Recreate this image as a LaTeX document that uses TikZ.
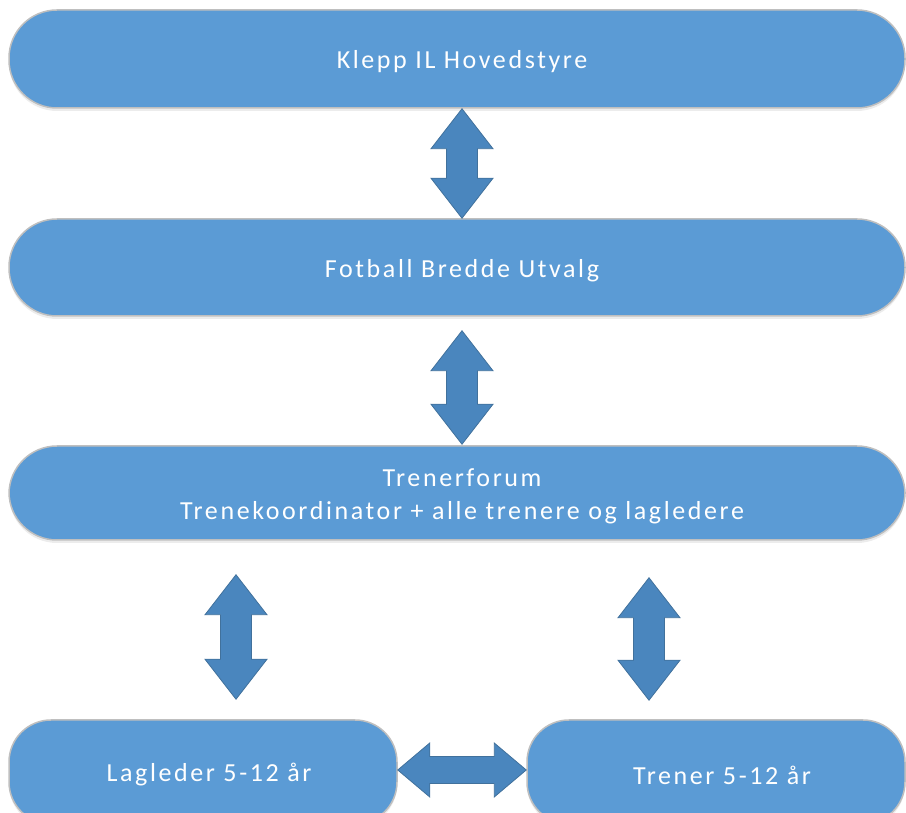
\documentclass[tikz,border=0pt]{standalone}
\usepackage{fontspec}
\setmainfont{Carlito}[LetterSpace=10]
\usetikzlibrary{calc,shadows}

\definecolor{boxfill}{HTML}{5B9BD5}
\definecolor{boxline}{HTML}{BFBFBF}
\definecolor{arrowfill}{HTML}{4A86BE}
\definecolor{arrowline}{HTML}{41719C}

% block arrows between two tips
\newcommand{\vblockarrow}[2]{%
  \draw[blockarrow] let \p1=(#1), \p2=(#2) in
    (\p1) -- (\x1+31pt,\y1-40pt) -- (\x1+15.5pt,\y1-40pt) -- (\x1+15.5pt,\y2+40pt)
    -- (\x1+31pt,\y2+40pt) -- (\x1,\y2) -- (\x1-31pt,\y2+40pt) -- (\x1-15.5pt,\y2+40pt)
    -- (\x1-15.5pt,\y1-40pt) -- (\x1-31pt,\y1-40pt) -- cycle;}
\newcommand{\hblockarrow}[2]{%
  \draw[blockarrow] let \p1=(#1), \p2=(#2) in
    (\p1) -- (\x1+32pt,\y1+27pt) -- (\x1+32pt,\y1+13.5pt) -- (\x2-32pt,\y1+13.5pt)
    -- (\x2-32pt,\y1+27pt) -- (\x2,\y1) -- (\x2-32pt,\y1-27pt) -- (\x2-32pt,\y1-13.5pt)
    -- (\x1+32pt,\y1-13.5pt) -- (\x1+32pt,\y1-27pt) -- cycle;}

\begin{document}
\begin{tikzpicture}[x=1pt,y=1pt,
    box/.style={draw=boxline,line width=1.5pt,fill=boxfill,
      rounded corners=48pt,inner sep=0pt,minimum height=98pt,
      drop shadow={opacity=0.15,shadow xshift=0pt,shadow yshift=-3pt}},
    smallbox/.style={box,rounded corners=42pt,minimum height=104pt},
    boxtext/.style={text=white,font=\fontsize{26}{33}\selectfont,align=center,yshift=-3pt},
    blockarrow/.style={fill=arrowfill,draw=arrowline,line width=0.8pt,line join=miter}]
\clip (0,0) rectangle (906,813);
\useasboundingbox (0,0) rectangle (906,813);

\node[box,minimum width=896pt] (hoved) at (457,754) {};
\node[box,minimum width=896pt,minimum height=97pt] (bredde) at (457,545.5) {};
\node[box,minimum width=896pt,minimum height=94pt] (forum) at (457,320) {};
\node[smallbox,minimum width=388pt] (lagleder) at (203,41) {};
\node[smallbox,minimum width=378pt] (trener) at (716,41) {};

\node[boxtext] (hovedtxt) at ([xshift=5pt]hoved.center) {Klepp IL Hovedstyre};
\node[boxtext] (breddetxt) at ([xshift=5pt]bredde.center) {Fotball Bredde Utvalg};
\node[boxtext] (forumtxt) at ([xshift=5pt]forum.center)
  {Trenerforum\\Trenekoordinator + alle trenere og lagledere};
\node[boxtext] (lagledertxt) at ([xshift=6pt]lagleder.center) {Lagleder 5-12 år};
\node[boxtext] (trenertxt) at ([xshift=6pt]trener.center) {Trener 5-12 år};

\vblockarrow{$(hoved.south)+(5,0)$}{$(bredde.north)+(5,0)$}
\vblockarrow{$(bredde.south)+(5,-14)$}{$(forum.north)+(5,1)$}
\vblockarrow{$(forum.south)+(-221,-34)$}{$(lagleder.north)+(33,20)$}
\vblockarrow{$(forum.south)+(192,-37)$}{$(trener.north)+(-67,19)$}
\hblockarrow{$(lagleder.east)+(0,2)$}{$(trener.west)+(0,2)$}
\end{tikzpicture}
\end{document}
